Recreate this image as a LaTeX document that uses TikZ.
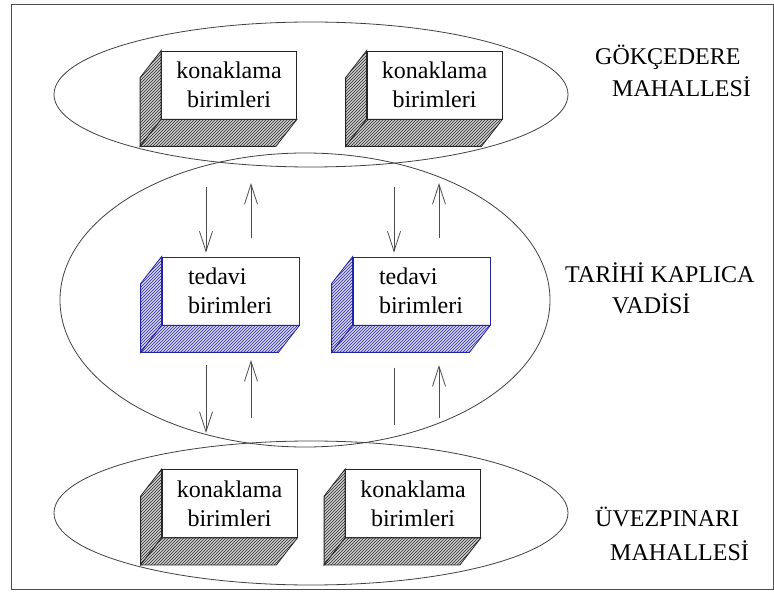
\documentclass[tikz,border=0pt]{standalone}
\usepackage{fontspec}
\setmainfont{Liberation Serif}
\usetikzlibrary{arrows.meta,patterns,calc}

\definecolor{boxblue}{RGB}{35,35,165}

\tikzset{
  big/.style={font=\fontsize{24}{29}\selectfont},
  front/.style={big, draw, fill=white, line width=0.8pt, minimum width=135pt,
    minimum height=68pt, inner sep=0pt, align=center},
  konak/.style={front, draw=black!85},
  tedavi/.style={front, draw=boxblue, minimum width=137pt, text width=85pt,
    inner xsep=26pt, align=left},
  hatchgrey/.style={draw=black!85, line width=0.8pt, preaction={fill=black!18},
    pattern=north east lines, pattern color=black!85},
  hatchblue/.style={draw=boxblue, line width=0.8pt, preaction={fill=boxblue!18},
    pattern=north east lines, pattern color=boxblue},
  region/.style={big, anchor=base west, inner sep=0pt},
  zone/.style={draw=black!75, line width=0.8pt},
  flow/.style={draw=black!70, line width=0.8pt, -{Straight Barb[length=20pt,width=13pt]}}
}

% side and bottom faces of a box, pushed to the lower left
\newcommand{\slab}[2]{
  \path[#2] (#1.north west) -- ++(-21,27) -- ($(#1.south west)+(-21,27)$)
    -- (#1.south west) -- cycle;
  \path[#2] (#1.south west) -- ($(#1.south west)+(-21,27)$)
    -- ($(#1.south east)+(-21,27)$) -- (#1.south east) -- cycle;
}

\begin{document}
\begin{tikzpicture}[x=1pt, y=-1pt]
  \useasboundingbox (0,0) rectangle (774,593);
  % Frame
  \draw[black!70, line width=1pt] (11,5) rectangle (773,589);

  % The three areas
  \draw[zone] (311,94.5) ellipse [x radius=257, y radius=72.5];
  \draw[zone] (305,300) ellipse [x radius=245, y radius=147];
  \draw[zone] (311,513) ellipse [x radius=257, y radius=72];

  % Lodging units, upper quarter
  \node[konak] (kA) at (229,85) {konaklama\\birimleri};
  \node[konak] (kB) at (434.5,85) {konaklama\\birimleri};
  \slab{kA}{hatchgrey}
  \slab{kB}{hatchgrey}

  % Treatment units in the valley
  \node[tedavi] (tA) at (230.5,291) {tedavi\\birimleri};
  \node[tedavi] (tB) at (421.5,291) {tedavi\\birimleri};
  \slab{tA}{hatchblue}
  \slab{tB}{hatchblue}

  % Lodging units, lower quarter
  \node[konak] (kC) at (229.5,503.5) {konaklama\\birimleri};
  \node[konak] (kD) at (413,503.5) {konaklama\\birimleri};
  \slab{kC}{hatchgrey}
  \slab{kD}{hatchgrey}

  % Area names
  \node[region] (gok) at (595,65) {GÖKÇEDERE};
  \node[region] (gokm) at (612,97) {MAHALLESİ};
  \node[region] (tar) at (565,283) {TARİHİ KAPLICA};
  \node[region] (tarv) at (612,314) {VADİSİ};
  \node[region] (uvz) at (595,526) {ÜVEZPINARI};
  \node[region] (uvzm) at (610,560) {MAHALLESİ};

  % Movements between the areas
  \coordinate (dnA) at (206,187);
  \coordinate (upA) at (251,238);
  \coordinate (dnB) at (394,187);
  \coordinate (upB) at (439,238);
  \draw[flow] (dnA) -- ([yshift=4pt]tA.north -| dnA);
  \draw[flow] (upA) -- (251,183);
  \draw[flow] (dnB) -- ([yshift=4pt]tB.north -| dnB);
  \draw[flow] (upB) -- (439,183);

  \coordinate (dnC) at (206,365);
  \coordinate (upC) at (251,418);
  \coordinate (dnD) at (394,368);
  \coordinate (upD) at (439,418);
  \draw[flow] (dnC) -- (206,433);
  \draw[flow] (upC) -- (251,360);
  \draw[black!70, line width=0.8pt] (dnD) -- (394,425);
  \draw[flow] (upD) -- (439,365);
\end{tikzpicture}
\end{document}
